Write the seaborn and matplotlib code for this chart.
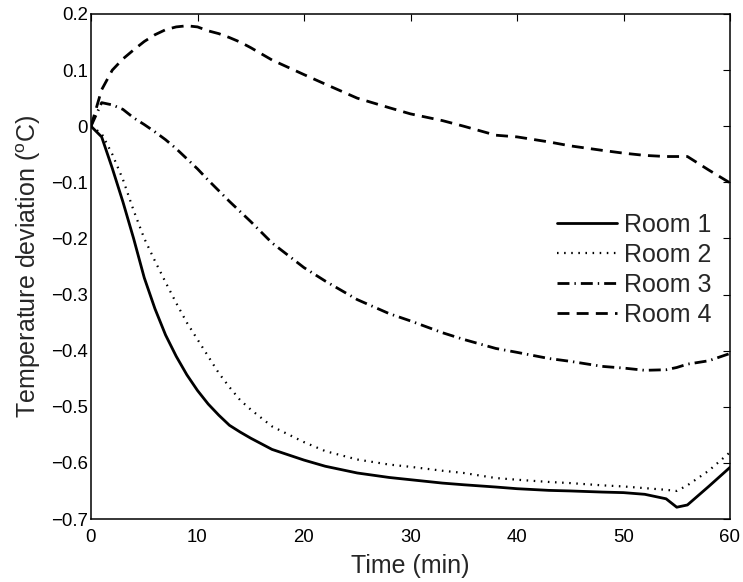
import matplotlib
matplotlib.use("Agg")
import matplotlib.pyplot as plt
import matplotlib.ticker as mticker
import numpy as np
import pandas as pd
import seaborn as sns

# Sample times (min)
time_min = [0, 1, 2, 3, 4, 5, 6, 7, 8, 9, 10, 11, 12, 13, 14, 15, 17, 20, 22, 25,
            28, 30, 33, 35, 38, 40, 43, 45, 48, 50, 52, 54, 55, 56, 58, 60]

# Temperature deviation of each room (degC)
room1 = [0, -0.019, -0.075, -0.135, -0.200, -0.270, -0.325, -0.372, -0.410, -0.443,
         -0.471, -0.495, -0.515, -0.533, -0.545, -0.556, -0.576, -0.595, -0.606, -0.618,
         -0.626, -0.630, -0.636, -0.639, -0.643, -0.646, -0.649, -0.650, -0.652, -0.653,
         -0.656, -0.664, -0.679, -0.675, -0.642, -0.608]
room2 = [0, -0.013, -0.050, -0.095, -0.150, -0.200, -0.240, -0.278, -0.315, -0.350,
         -0.380, -0.410, -0.440, -0.465, -0.488, -0.505, -0.535, -0.563, -0.579, -0.594,
         -0.603, -0.607, -0.614, -0.618, -0.627, -0.630, -0.634, -0.636, -0.640, -0.642,
         -0.645, -0.648, -0.650, -0.640, -0.614, -0.581]
room3 = [0, 0.042, 0.038, 0.030, 0.015, 0.003, -0.010, -0.024, -0.040, -0.058,
         -0.076, -0.096, -0.115, -0.134, -0.152, -0.170, -0.208, -0.252, -0.276, -0.309,
         -0.334, -0.347, -0.368, -0.380, -0.396, -0.403, -0.414, -0.419, -0.428, -0.431,
         -0.435, -0.434, -0.430, -0.424, -0.418, -0.405]
room4 = [0, 0.065, 0.100, 0.120, 0.136, 0.151, 0.163, 0.172, 0.177, 0.179,
         0.177, 0.170, 0.165, 0.158, 0.150, 0.140, 0.118, 0.092, 0.075, 0.050,
         0.033, 0.022, 0.010, 0.000, -0.016, -0.019, -0.028, -0.035, -0.043, -0.048,
         -0.052, -0.054, -0.054, -0.054, -0.078, -0.101]

room_names = ["Room 1", "Room 2", "Room 3", "Room 4"]
series = [room1, room2, room3, room4]

x_ticks = [0, 10, 20, 30, 40, 50, 60]
y_ticks = [-0.7, -0.6, -0.5, -0.4, -0.3, -0.2, -0.1, 0, 0.1, 0.2]

df = pd.DataFrame({
    "Time": np.tile(time_min, len(series)),
    "Deviation": np.concatenate(series),
    "Room": np.repeat(room_names, len(time_min)),
})

sns.set_style("white")
plt.rcParams["font.family"] = ["Liberation Sans", "DejaVu Sans"]
plt.rcParams["mathtext.fontset"] = "custom"
plt.rcParams["mathtext.rm"] = "Liberation Sans"

fig = plt.figure(figsize=(7.43, 5.82), dpi=100)
ax = fig.add_axes([91 / 743, 1 - 519 / 582, (730 - 91) / 743, (519 - 14) / 582])

styles = {
    "Room 1": dict(lw=2.0, dashes=None),
    "Room 2": dict(lw=1.6, dashes=(0.7, 2.5)),
    "Room 3": dict(lw=2.0, dashes=(4.3, 1.8, 0.5, 1.8)),
    "Room 4": dict(lw=2.0, dashes=(4.3, 2.6)),
}

for name in room_names:
    sub = df[df["Room"] == name]
    sns.lineplot(data=sub, x="Time", y="Deviation", ax=ax, color="black",
                 linewidth=styles[name]["lw"], label=name, legend=False)
    line = ax.lines[-1]
    if styles[name]["dashes"] is not None:
        line.set_dashes(styles[name]["dashes"])

ax.set_xlim(0, 60)
ax.set_ylim(-0.7, 0.2)
ax.set_xticks(x_ticks)
ax.set_yticks(y_ticks)


def fmt(v, pos):
    s = "%g" % round(v, 2)
    return s.replace("-", "\u2212")


ax.xaxis.set_major_formatter(mticker.FuncFormatter(fmt))
ax.yaxis.set_major_formatter(mticker.FuncFormatter(fmt))
ax.tick_params(direction="in", length=5, width=0.8, top=True, right=True,
               labelsize=13.4, pad=2, colors="black")
ax.tick_params(axis="x", pad=7)
for sp in ax.spines.values():
    sp.set_visible(True)
    sp.set_color("black")
    sp.set_linewidth(1.1)

ax.set_xlabel("Time (min)", fontsize=18, labelpad=6)
ax.set_ylabel(r"Temperature deviation ($^{\mathrm{o}}$C)", fontsize=18, labelpad=6)

leg = ax.legend(loc="upper right", bbox_to_anchor=(712 / 743, 1 - 213 / 582),
                bbox_transform=fig.transFigure, frameon=False, fontsize=18,
                handlelength=2.4, handletextpad=0.3, labelspacing=0.24,
                borderpad=0, borderaxespad=0)

fig.savefig("out.png", dpi=100)
